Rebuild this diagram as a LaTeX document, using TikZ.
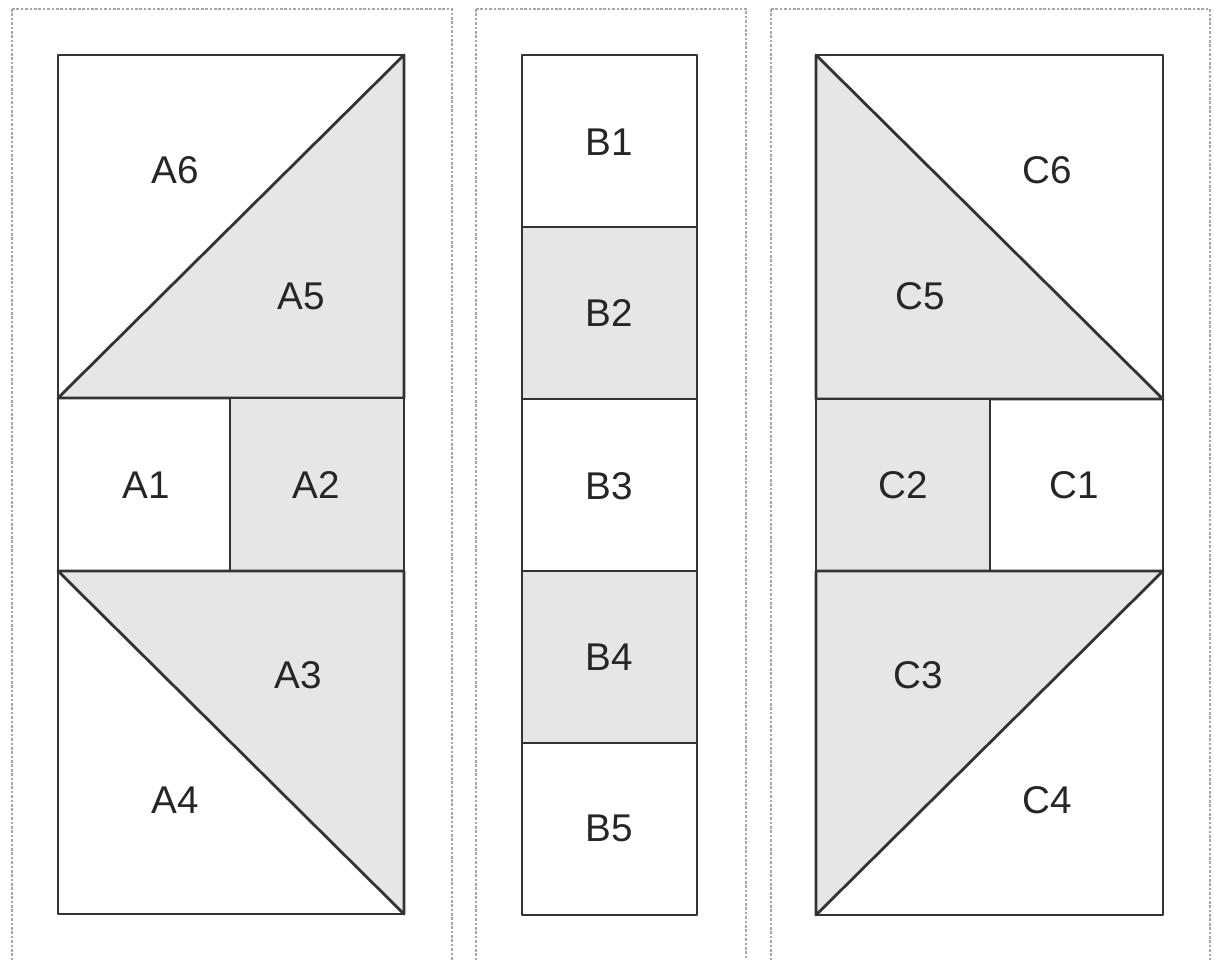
\documentclass[tikz,border=0pt]{standalone}
\usepackage{fontspec}
\setmainfont{Liberation Sans}
\usetikzlibrary{calc}
\definecolor{patch}{HTML}{E6E6E6}
\definecolor{seam}{HTML}{333333}
\tikzset{
  panel/.style={draw=gray!70,line width=0.6pt,dash pattern=on 1.5pt off 1pt},
  piece/.style={draw=seam,line width=1.6pt,line join=round},
  shaded/.style={piece,fill=patch},
  lbl/.style={font=\fontsize{22}{26}\selectfont,text=black!85}
}
\begin{document}
\begin{tikzpicture}[x=0.02cm,y=-0.02cm]
\clip(0,0)rectangle(1214,960);
\fill[white](0,0)rectangle(1214,960);
%panels
\draw[panel](12,9)--(12,980) (12,9)--(452,9)--(452,980);
\draw[panel](476,9)--(476,980) (476,9)--(746,9)--(746,980);
\draw[panel](771,9)--(771,980) (771,9)--(1210,9)--(1210,980);
%block A
\draw[piece](58,55)rectangle(404,398);
\draw[shaded](58,398)--(404,55)--(404,398)--cycle;
\draw[piece](58,398)rectangle(230,571);
\draw[shaded](230,398)rectangle(404,571);
\draw[piece](58,571)rectangle(404,914);
\draw[shaded](58,571)--(404,571)--(404,914)--cycle;
\node[lbl](A6)at(175,170){A6};
\node[lbl](A5)at(301,296){A5};
\node[lbl](A1)at(146,485){A1};
\node[lbl](A2)at(316,485){A2};
\node[lbl](A3)at(298,675){A3};
\node[lbl](A4)at(175,800){A4};
%block B
\draw[piece](522,55)rectangle(697,227);
\draw[shaded](522,227)rectangle(697,399);
\draw[piece](522,399)rectangle(697,571);
\draw[shaded](522,571)rectangle(697,743);
\draw[piece](522,743)rectangle(697,915);
\foreach \i/\y in {1/142,2/313,3/486,4/657,5/828}
  \node[lbl](B\i)at(609,\y){B\i};
%block C
\draw[piece](816,55)rectangle(1163,399);
\draw[shaded](816,55)--(1163,399)--(816,399)--cycle;
\draw[shaded](816,399)rectangle(990,571);
\draw[piece](990,399)rectangle(1163,571);
\draw[piece](816,571)rectangle(1163,915);
\draw[shaded](816,571)--(1163,571)--(816,915)--cycle;
\node[lbl](C6)at(1047,170){C6};
\node[lbl](C5)at(920,296){C5};
\node[lbl](C2)at(903,485){C2};
\node[lbl](C1)at(1074,485){C1};
\node[lbl](C3)at(918,675){C3};
\node[lbl](C4)at(1047,800){C4};
\end{tikzpicture}
\end{document}
